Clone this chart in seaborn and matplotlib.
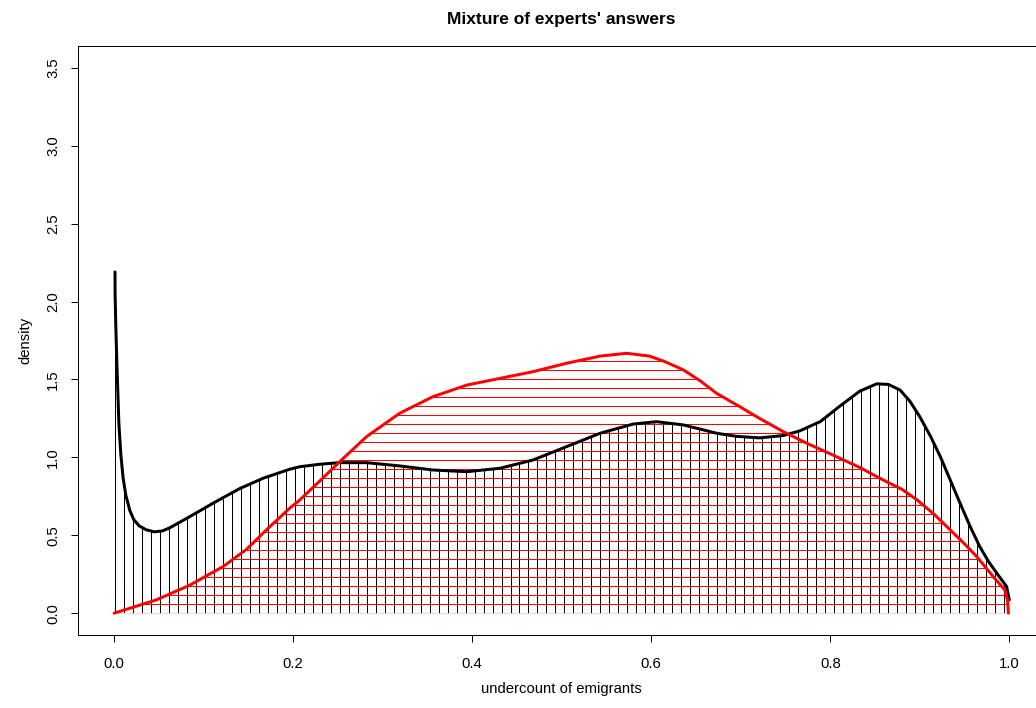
import numpy as np
import matplotlib
matplotlib.use("Agg")
import matplotlib.pyplot as plt
import seaborn as sns

# ---- data ----
black_x = [0.001, 0.0011, 0.0019, 0.003, 0.0053, 0.0075, 0.010, 0.013, 0.0175, 0.022,
           0.028, 0.036, 0.045, 0.054, 0.0622, 0.0846, 0.1106, 0.1404, 0.1665, 0.1963,
           0.2075, 0.230, 0.252, 0.282, 0.319, 0.356, 0.394, 0.431, 0.468, 0.5055,
           0.543, 0.580, 0.606, 0.636, 0.673, 0.695, 0.721, 0.7475, 0.766, 0.789,
           0.811, 0.833, 0.852, 0.865, 0.878, 0.889, 0.900, 0.912, 0.923, 0.934,
           0.945, 0.956, 0.967, 0.977, 0.986, 0.997, 1.0]
black_y = [2.19, 2.05, 1.84, 1.62, 1.22, 1.02, 0.87, 0.76, 0.66, 0.60,
           0.56, 0.535, 0.522, 0.528, 0.548, 0.62, 0.706, 0.80, 0.866, 0.924,
           0.94, 0.956, 0.966, 0.966, 0.945, 0.919, 0.908, 0.930, 0.983, 1.069,
           1.155, 1.214, 1.229, 1.208, 1.155, 1.135, 1.125, 1.14, 1.17, 1.23,
           1.33, 1.425, 1.472, 1.468, 1.432, 1.36, 1.261, 1.135, 1.004, 0.855,
           0.706, 0.56, 0.427, 0.33, 0.257, 0.171, 0.085]

red_x = [0.0, 0.047, 0.0846, 0.122, 0.148, 0.170, 0.196, 0.2075, 0.230, 0.252,
         0.282, 0.319, 0.356, 0.394, 0.431, 0.468, 0.5055, 0.543, 0.5725, 0.598,
         0.615, 0.636, 0.655, 0.673, 0.699, 0.721, 0.7475, 0.774, 0.803, 0.833,
         0.859, 0.880, 0.897, 0.916, 0.934, 0.950, 0.9636, 0.982, 0.995, 0.998,
         0.999]
red_y = [0.0, 0.085, 0.18, 0.30, 0.41, 0.534, 0.673, 0.727, 0.85, 0.972,
         1.133, 1.283, 1.389, 1.464, 1.507, 1.55, 1.604, 1.650, 1.668, 1.650,
         1.615, 1.561, 1.49, 1.411, 1.325, 1.25, 1.165, 1.09, 1.015, 0.935,
         0.855, 0.795, 0.727, 0.635, 0.534, 0.445, 0.363, 0.235, 0.149, 0.085,
         0.0]

x_ticks = [0.0, 0.2, 0.4, 0.6, 0.8, 1.0]
y_ticks = [0.0, 0.5, 1.0, 1.5, 2.0, 2.5, 3.0, 3.5]
title = "Mixture of experts' answers"
x_label = "undercount of emigrants"
y_label = "density"

# ---- style ----
sns.set_style("ticks")
plt.rcParams["font.family"] = ["Liberation Sans", "DejaVu Sans"]
plt.rcParams["text.color"] = "black"
plt.rcParams["axes.labelcolor"] = "black"
FS = 10.7

W, H = 1036, 708
fig = plt.figure(figsize=(W / 100, H / 100), dpi=100)
ax_l, ax_r, ax_t, ax_b = 78.3, 1045.1, 46.0, 635.0
ax = fig.add_axes([ax_l / W, (H - ax_b) / H, (ax_r - ax_l) / W, (ax_b - ax_t) / H])
ax.set_xlim(-0.04, 1.04)
ax.set_ylim(-0.14, 3.64)

px = 1.0 / 100 * 72  # one pixel in points

# clip regions (invisible fills)
black_poly = ax.fill_between(black_x, 0, black_y, facecolor="none", edgecolor="none", linewidth=0)
red_poly = ax.fill_between(red_x, 0, red_y, facecolor="none", edgecolor="none", linewidth=0)

# black vertical hatching
hx = np.arange(0.0015, 1.0, 0.01003)
vl = ax.vlines(hx, 0, 3.0, colors="black", linewidth=1.0 * px, zorder=1)
vl.set_clip_path(black_poly.get_paths()[0], ax.transData)

# red horizontal hatching
hy = np.arange(0.003, 1.7, 9.0 / 155.9)
hl = ax.hlines(hy, -0.02, 1.02, colors="red", linewidth=1.0 * px, zorder=2)
hl.set_clip_path(red_poly.get_paths()[0], ax.transData)

# density curves
sns.lineplot(x=black_x, y=black_y, color="black", linewidth=3.0 * px, estimator=None,
             sort=False, ax=ax, zorder=3)
sns.lineplot(x=red_x, y=red_y, color="red", linewidth=3.0 * px, estimator=None,
             sort=False, ax=ax, zorder=4)

# axes cosmetics
ax.set_xticks(x_ticks)
ax.set_xticklabels([f"{v:.1f}" for v in x_ticks])
ax.set_yticks(y_ticks)
ax.set_yticklabels([f"{v:.1f}" for v in y_ticks], rotation=90, va="center")
ax.tick_params(axis="both", direction="out", length=7 * px, width=1.0 * px,
               labelsize=FS, colors="black")
ax.tick_params(axis="x", pad=15.5 * px)
ax.tick_params(axis="y", pad=11.0 * px)
for s in ax.spines.values():
    s.set_visible(True)
    s.set_linewidth(1.0 * px)
    s.set_color("black")
ax.grid(False)

ax.set_xlabel(x_label, fontsize=FS, color="black")
ax.xaxis.label.set_va("center")
ax.xaxis.set_label_coords(0.5, (ax_b - 689.0) / (ax_b - ax_t))
ax.set_ylabel(y_label, fontsize=FS, color="black")
ax.yaxis.label.set_va("center")
ax.yaxis.set_label_coords((25.0 - ax_l) / (ax_r - ax_l), 0.5)

ax.set_title(title, fontsize=12.5, fontweight="bold", pad=0, va="center", color="black",
             y=(ax_b - 19.5) / (ax_b - ax_t))

fig.savefig("out.png", dpi=100, facecolor="white")
